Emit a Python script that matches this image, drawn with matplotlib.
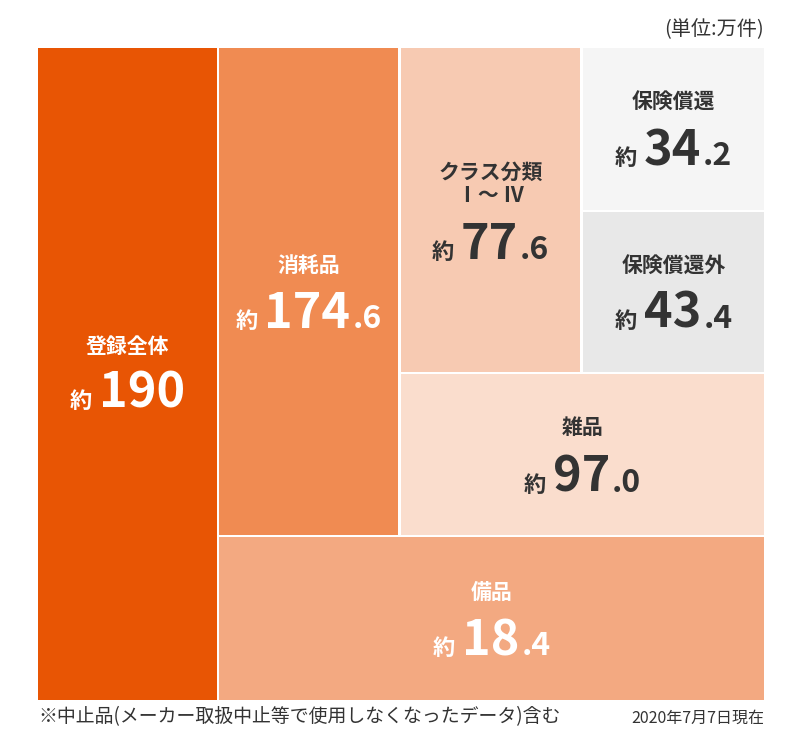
import matplotlib
matplotlib.use("Agg")
import matplotlib.pyplot as plt
from matplotlib.patches import Rectangle

plt.rcParams['font.family'] = ['Noto Sans CJK JP', 'DejaVu Sans']

# 区分ごとの件数(万件)
labels = ["登録全体", "消耗品", "クラス分類\nⅠ～ Ⅳ", "保険償還", "保険償還外", "雑品", "備品"]
values = [190, 174.6, 77.6, 34.2, 43.4, 97.0, 18.4]
colors = ["#E85504", "#F08B52", "#F7CAB2", "#F5F5F5", "#E8E8E8", "#FADDCD", "#F3A981"]
text_colors = ["white", "white", "#333333", "#333333", "#333333", "#333333", "white"]

# 枠の位置(ピクセル: x0, y0, x1, y1)
boxes = [(38, 48, 217, 700), (219, 48, 398, 535), (401, 48, 580, 372),
         (583, 48, 764, 210), (583, 212, 764, 372), (401, 374, 764, 535),
         (219, 537, 764, 700)]
# ラベル中心と数値ベースライン
label_y = [346, 265, 184, 102, 266, 427, 592]
number_base = [408, 328, 259, 165, 328, 492, 655]

W, H = 800, 752
fig = plt.figure(figsize=(W / 100, H / 100), dpi=100)
ax = fig.add_axes([0, 0, 1, 1])
ax.set_xlim(0, W)
ax.set_ylim(H, 0)
ax.axis('off')
renderer = fig.canvas.get_renderer()


def draw_number(cx, base, value, color):
    s = f"{value:.1f}" if value != int(value) or value < 100 else f"{int(value)}"
    if "." in s:
        ip, dp = s.split(".")
        dp = "." + dp
    else:
        ip, dp = s, ""
    pieces = [("約", 16, 7), (ip, 35, 2), (dp, 23, 0)]
    texts = []
    widths = []
    for txt, size, gap in pieces:
        if not txt:
            continue
        t = ax.text(0, base, txt, fontsize=size, fontweight='bold', color=color,
                    ha='left', va='baseline')
        w = t.get_window_extent(renderer).width
        texts.append((t, gap))
        widths.append(w + gap)
    total = sum(widths) - texts[-1][1]
    x = cx - total / 2
    for (t, gap), w in zip(texts, widths):
        t.set_x(x)
        x += w


for i in range(len(labels)):
    x0, y0, x1, y1 = boxes[i]
    ax.add_patch(Rectangle((x0, y0), x1 - x0, y1 - y0, facecolor=colors[i], edgecolor='none'))
    cx = (x0 + x1) / 2
    ax.text(cx, label_y[i], labels[i], fontsize=15, fontweight='bold', color=text_colors[i],
            ha='center', va='center', linespacing=1.15)
    draw_number(cx, number_base[i], values[i], text_colors[i])

ax.text(764, 30, "(単位:万件)", fontsize=14.5, color='#333333', ha='right', va='center')
ax.text(38, 717, "※中止品(メーカー取扱中止等で使用しなくなったデータ)含む", fontsize=13.6,
        color='#333333', ha='left', va='center')
ax.text(764, 718, "2020年7月7日現在", fontsize=11.5, color='#333333', ha='right', va='center')

fig.savefig("out.png", dpi=100, facecolor='white')
